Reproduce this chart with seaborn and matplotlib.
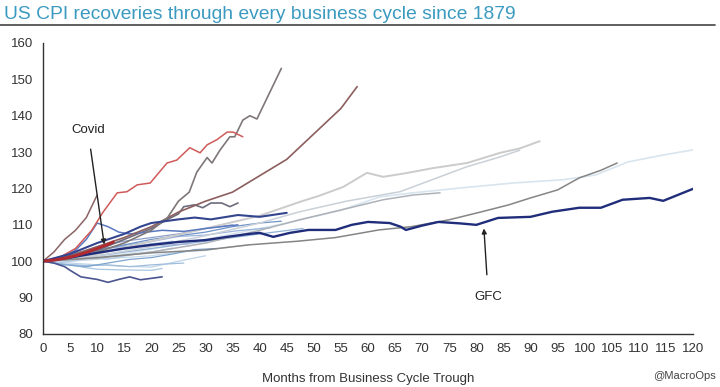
import pandas as pd
import numpy as np
import matplotlib
matplotlib.use("Agg")
import matplotlib.pyplot as plt
from matplotlib.lines import Line2D
import seaborn as sns

# months after trough and CPI index (trough = 100)
covid_m = [0, 2, 4, 6, 8, 10, 12, 13]
covid_v = [100, 100.3, 100.8, 101.5, 102.4, 103.5, 104.6, 105.3]

red_m = [0, 3, 6, 9, 11, 13.7, 15.5, 17.4, 19.8, 22.9, 24.7, 27.1, 29, 30.3, 32.1, 34, 35.1, 36.9]
red_v = [100, 101, 103.5, 108.5, 113.3, 118.8, 119.1, 121, 121.5, 127, 127.8, 131.2, 129.8, 132, 133.4, 135.5, 135.5, 134.2]

steep_m = [0, 5, 10, 15, 20, 23, 25, 27, 28.4, 30.3, 31.2, 32.7, 34.5, 35.4, 36.9, 38.2, 39.5, 44]
steep_v = [100, 101, 102.5, 105, 108.5, 112, 116.5, 119, 124.5, 128.5, 127, 130.6, 134.2, 134.2, 138.8, 140, 139.1, 153]

brown_m = [0, 5, 10, 15, 20, 25, 30, 35, 40, 45, 50, 55, 58]
brown_v = [100, 101.5, 104, 106.5, 109.5, 113.5, 116.5, 119, 123.5, 128, 135, 142, 148]

brown_short_m = [0, 2, 4, 6, 8, 10]
brown_short_v = [100, 102.5, 106, 108.5, 112, 118.2]

low_m = [0, 2, 4, 5, 7, 10, 12, 14, 16, 18, 20, 22]
low_v = [100, 99.5, 98.5, 97.5, 95.7, 95, 94.2, 95, 95.7, 94.9, 95.3, 95.7]

gfc_m = [0, 5, 10, 15, 20, 25, 30, 34, 38, 40, 42.5, 45.6, 49, 54, 57, 60, 64, 66, 67, 70, 73, 77, 80,
         84, 90, 94, 99, 103, 107, 112, 114.5, 120]
gfc_v = [100, 101, 102.3, 103.5, 104.5, 105.3, 105.8, 106.7, 107.5, 107.8, 106.7, 107.8, 108.6, 108.6, 110,
         110.8, 110.5, 109.5, 108.6, 109.8, 110.8, 110.4, 110, 111.9, 112.2, 113.6, 114.7, 114.7, 116.9,
         117.4, 116.6, 119.9]

navy2_m = [0, 5, 10, 15, 18, 20, 25, 28, 31, 36, 40, 45]
navy2_v = [100, 102, 105, 107.5, 109.5, 110.5, 111.5, 112, 111.5, 112.7, 112.2, 113.3]

bump_m = [0, 3, 6, 8, 10, 12, 14, 16, 18, 22, 26, 30, 36]
bump_v = [100, 101, 103, 106, 110.5, 109.5, 108, 107.5, 107.8, 108.5, 108.2, 109, 110]

grey_step_m = [0, 5, 10, 15, 20, 23, 25, 26, 28, 29.5, 31, 33, 34.5, 36]
grey_step_v = [100, 101.5, 103, 106, 109, 111.5, 113, 115, 115.5, 114.7, 116, 116, 115, 116]

wavy_m = [0, 10, 20, 30, 40, 47.4, 51, 55.4, 59.8, 62.8, 67, 72, 78.3, 84.4, 88, 91.7]
wavy_v = [100, 102, 105.5, 109, 112.5, 116.3, 118, 120.4, 124.3, 123.2, 124.2, 125.6, 127, 129.8, 131, 133]

straight_m = [0, 10, 20, 30, 40, 47.4, 56, 65.9, 72, 78.3, 84, 88]
straight_v = [100, 101.5, 104, 107, 110.5, 113.6, 116.5, 119.1, 122.5, 126, 128.5, 130.5]

grey_long_m = [0, 10, 20, 30, 38, 47, 54, 62, 68, 75, 81, 86, 90, 95, 99, 103, 106]
grey_long_v = [100, 101, 102.3, 103.1, 104.5, 105.5, 106.5, 108.6, 109.5, 111.4, 113.6, 115.5, 117.4, 119.6, 122.9, 125, 127]

mid_grey_m = [0, 10, 20, 30, 40, 47.4, 56.7, 62.8, 68.3, 73.3]
mid_grey_v = [100, 100.8, 102.5, 105, 108.5, 111.4, 114.7, 116.9, 118.2, 118.8]

pale_m = [0, 15, 30, 45, 55, 62.2, 68.3, 77.5, 86.8, 96, 102, 108, 114.5, 120]
pale_v = [100, 102, 106, 110.5, 114, 117.7, 118.8, 120.2, 121.5, 122.4, 123.7, 127.3, 129.2, 130.6]

b1_m = [0, 3, 5, 8, 10, 15, 20, 22]
b1_v = [100, 99.3, 99, 98.2, 97.8, 97.6, 97.5, 98]
b2_m = [0, 5, 10, 15, 20, 25, 30]
b2_v = [100, 99.5, 99, 98.6, 98.4, 100, 101.5]
b3_m = [0, 5, 10, 15, 20, 25, 30, 35, 40, 48]
b3_v = [100, 100.5, 101.5, 102.5, 103.5, 104.5, 105.5, 106.5, 107.5, 109]
b4_m = [0, 5, 10, 15, 20, 25, 30, 35, 40, 44]
b4_v = [100, 101, 103, 104.5, 106, 107, 108, 109.5, 110.5, 111]
b5_m = [0, 5, 10, 15, 20, 25, 30, 35, 38]
b5_v = [100, 100, 100.5, 101, 101.5, 102.5, 103, 104, 104.5]
b6_m = [0, 4, 8, 12, 16, 20, 24, 28, 32]
b6_v = [100, 99, 98.5, 99.5, 100.5, 101, 102, 103.2, 103.5]
b7_m = [0, 5, 10, 15, 20, 25, 30, 35]
b7_v = [100, 101.5, 104, 105.5, 106.5, 107.5, 109, 110]
b8_m = [0, 4, 8, 12, 16, 20, 24]
b8_v = [100, 100.8, 101.5, 103, 104, 104.8, 105.5]
b9_m = [0, 4, 8, 12, 16, 20, 26]
b9_v = [100, 99.2, 98.8, 99, 98.5, 99, 99.5]
b10_m = [0, 5, 10, 15, 20, 27]
b10_v = [100, 102, 103.5, 104, 104.2, 104.8]
b11_m = [0, 3, 6, 9, 12, 15, 18, 21, 24]
b11_v = [100, 99.6, 100.2, 101, 100.6, 101.4, 102.2, 102.8, 103.6]
b12_m = [0, 4, 8, 12, 16, 20, 25, 30, 36, 42]
b12_v = [100, 100.6, 102.2, 103.4, 104.6, 105.4, 106.8, 107.2, 108.4, 109.2]

# (months, values, colour, linewidth) drawn back to front
series = [
    (pale_m, pale_v, "#d8e5ef", 1.2),
    (b1_m, b1_v, "#a9c6e0", 0.9),
    (b2_m, b2_v, "#bcd3e8", 0.9),
    (b5_m, b5_v, "#c8dbeb", 0.9),
    (b9_m, b9_v, "#9fbddb", 0.9),
    (b11_m, b11_v, "#b4cde6", 0.9),
    (b3_m, b3_v, "#8fb1d6", 0.9),
    (b6_m, b6_v, "#7ea5d0", 0.9),
    (b8_m, b8_v, "#b0c8e2", 0.9),
    (b10_m, b10_v, "#a4b4d8", 0.9),
    (b12_m, b12_v, "#9ab6dc", 0.9),
    (b4_m, b4_v, "#6e93c8", 0.9),
    (b7_m, b7_v, "#8f9fc8", 0.9),
    (straight_m, straight_v, "#c9d0d8", 1.1),
    (wavy_m, wavy_v, "#cbcbcb", 1.4),
    (mid_grey_m, mid_grey_v, "#aeb2b8", 1.1),
    (grey_long_m, grey_long_v, "#858585", 1.1),
    (grey_step_m, grey_step_v, "#6c6c7c", 1.2),
    (bump_m, bump_v, "#5a78c0", 1.1),
    (low_m, low_v, "#4a5590", 1.2),
    (brown_short_m, brown_short_v, "#8a6464", 1.1),
    (brown_m, brown_v, "#8c5e5e", 1.2),
    (steep_m, steep_v, "#7f7777", 1.2),
    (red_m, red_v, "#d05a5a", 1.1),
    (navy2_m, navy2_v, "#34458f", 1.5),
    (gfc_m, gfc_v, "#1f2d7a", 1.7),
    (covid_m, covid_v, "#b02a30", 2.1),
]

sns.set_style("white")
plt.rcParams['font.family'] = ['Liberation Sans', 'DejaVu Sans']

fig = plt.figure(figsize=(7.2, 3.87), dpi=100)
ax = fig.add_axes([0.0597, 0.137, 0.9028, 0.752])

for m, v, c, lw in series:
    sns.lineplot(x=m, y=v, color=c, linewidth=lw, ax=ax, estimator=None)

ax.set_xlim(0, 120)
ax.set_ylim(80, 160)
ax.set_xticks(range(0, 121, 5))
ax.set_yticks(range(80, 161, 10))
ax.tick_params(axis='x', direction='inout', length=5, labelsize=9.5, colors='#333333', pad=4)
ax.tick_params(axis='y', direction='out', length=4, labelsize=9.5, colors='#333333', pad=3)
sns.despine(ax=ax)
for s in ['left', 'bottom']:
    ax.spines[s].set_color('#333333')
    ax.spines[s].set_linewidth(1.0)
ax.set_xlabel("Months from Business Cycle Trough", fontsize=9.5, color='#333333', labelpad=13)
ax.set_ylabel("")

ax.annotate("Covid", xy=(11.3, 104.6), xytext=(8.3, 136), ha='center', va='center',
            fontsize=9.5, color='#222222',
            arrowprops=dict(arrowstyle='-|>', color='#222222', lw=1.0, mutation_scale=7,
                            shrinkA=7, shrinkB=0))
ax.annotate("GFC", xy=(81.4, 109), xytext=(82.2, 90.3), ha='center', va='center',
            fontsize=9.5, color='#222222',
            arrowprops=dict(arrowstyle='-|>', color='#222222', lw=1.0, mutation_scale=7,
                            shrinkA=9, shrinkB=0))

fig.text(0.006, 0.962, "US CPI recoveries through every business cycle since 1879",
         fontsize=13.9, color='#3b9ac0', ha='left', va='center')
fig.add_artist(Line2D([0.0, 0.993], [0.935, 0.935], color='#444444', lw=1.2))
fig.text(0.994, 0.028, "@MacroOps", fontsize=8, color='#444444', ha='right', va='center')

fig.savefig("out.png", dpi=100)
